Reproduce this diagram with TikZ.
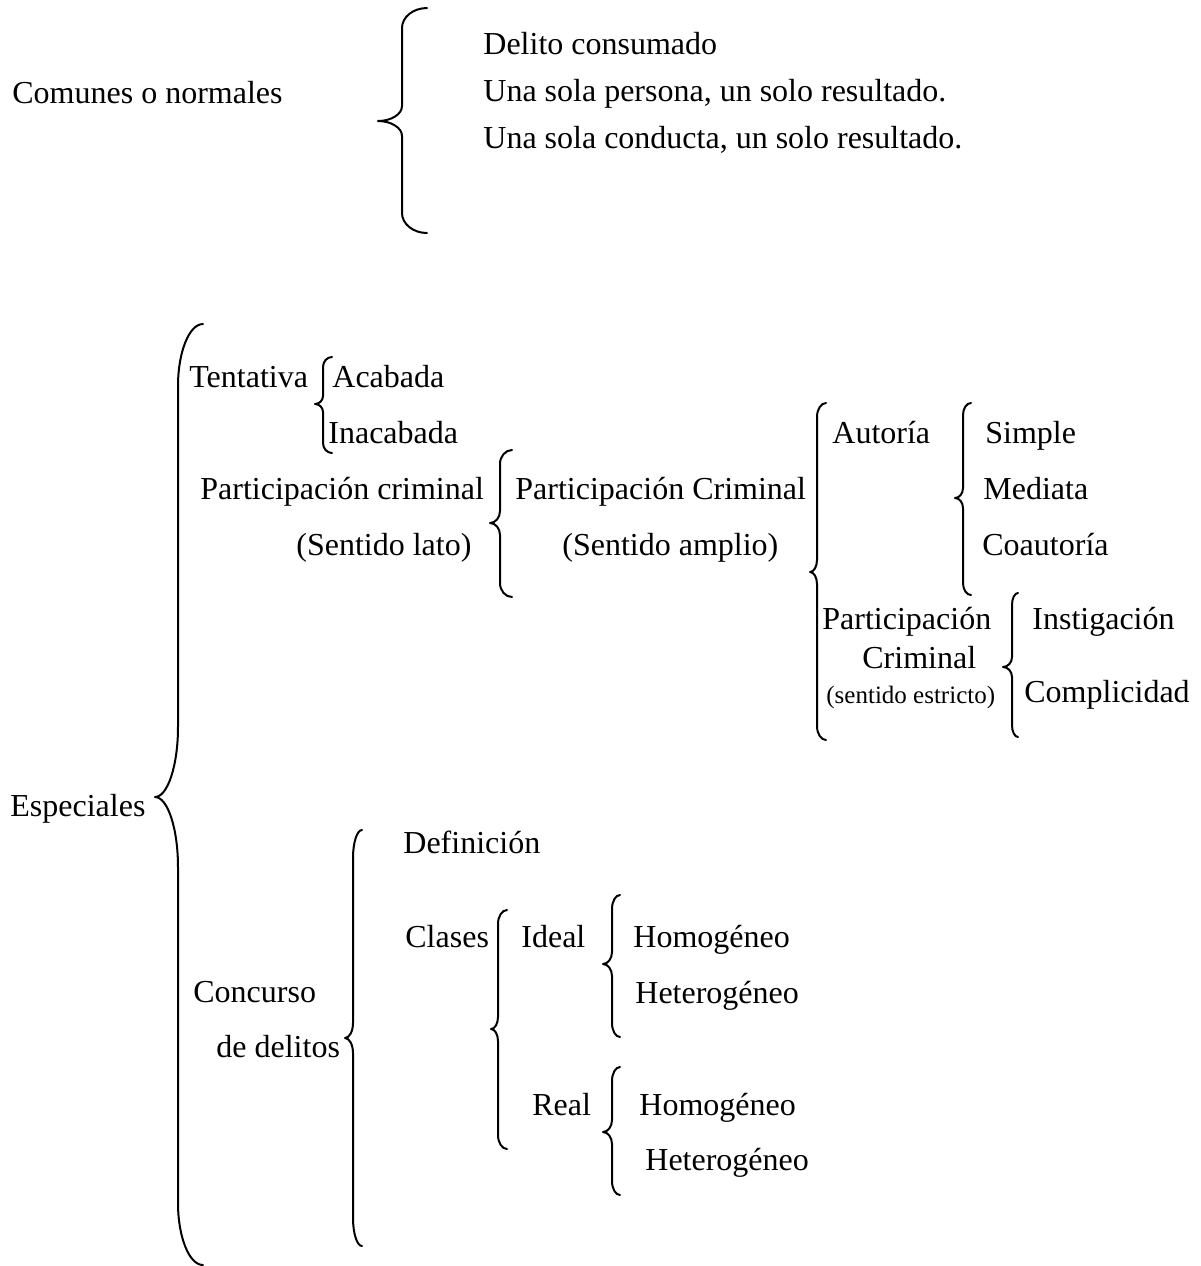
\documentclass[tikz,border=0pt]{standalone}
\usepackage{fontspec}
\setmainfont{Liberation Serif}
\newcommand\drawbrace[8]{%
  \draw[bracestyle] (#1,#4) .. controls ({#1-0.55*(#1-#2)},#4) and (#2,{#4+0.45*#7}) .. (#2,{#4+#7})
   -- (#2,{#5-#8}) .. controls (#2,{#5-0.45*#8}) and ({#3+0.55*(#2-#3)},#5) .. (#3,#5)
   .. controls ({#3+0.55*(#2-#3)},#5) and (#2,{#5+0.45*#8}) .. (#2,{#5+#8})
   -- (#2,{#6-#7}) .. controls (#2,{#6-0.45*#7}) and ({#1-0.55*(#1-#2)},#6) .. (#1,#6);}
\begin{document}
\begin{tikzpicture}[x=0.5pt,y=-0.5pt,
  txt/.style={anchor=base west,inner sep=0pt,font=\fontsize{16pt}{19pt}\selectfont},
  smalltxt/.style={anchor=base west,inner sep=0pt,font=\fontsize{12.5pt}{15pt}\selectfont},
  bracestyle/.style={line width=1pt,line cap=round,line join=round}]
\useasboundingbox (0,0) rectangle (1201,1266);
% top block
\node[txt] (comunes) at (12,103) {Comunes o normales};
\node[txt] (delito) at (483,54) {Delito consumado};
\node[txt] (persona) at (483,101) {Una sola persona, un solo resultado.};
\node[txt] (conducta) at (483,148) {Una sola conducta, un solo resultado.};
\drawbrace{427}{402}{378}{8}{121}{233}{20}{15}
% especiales
\node[txt] (especiales) at (10,816) {Especiales};
\drawbrace{203}{178}{155}{324}{797}{1265}{62}{70}
% tentativa
\node[txt] (tentativa) at (189,387) {Tentativa};
\node[txt] (acabada) at (332,387) {Acabada};
\node[txt] (inacabada) at (328,443) {Inacabada};
\drawbrace{332}{323}{315}{357}{404}{453}{10}{8}
% participacion
\node[txt] (partlato) at (200,499) {Participación criminal};
\node[txt] (lato) at (296,555) {(Sentido lato)};
\drawbrace{512}{500}{490}{450}{523}{597}{14}{12}
\node[txt] (partamplio) at (515,499) {Participación Criminal};
\node[txt] (amplio) at (562,555) {(Sentido amplio)};
\drawbrace{826}{817}{810}{403}{572}{740}{14}{12}
\node[txt] (autoria) at (832,443) {Autoría};
\drawbrace{971}{963}{955}{403}{498}{595}{12}{10}
\node[txt] (simple) at (985,443) {Simple};
\node[txt] (mediata) at (983,499) {Mediata};
\node[txt] (coautoria) at (982,555) {Coautoría};
\node[txt] (partestricto) at (822,629) {Participación};
\node[txt] (criminal) at (862,668) {Criminal};
\node[smalltxt] (estricto) at (826,703) {(sentido estricto)};
\drawbrace{1018}{1012}{1003}{593}{667}{737}{12}{10}
\node[txt] (instigacion) at (1032,629) {Instigación};
\node[txt] (complicidad) at (1024,702) {Complicidad};
% concurso
\node[txt] (concurso) at (193,1002) {Concurso};
\node[txt] (dedelitos) at (216,1057) {de delitos};
\drawbrace{362}{353}{345}{830}{1038}{1246}{28}{15}
\node[txt] (definicion) at (403,853) {Definición};
\node[txt] (clases) at (405,947) {Clases};
\drawbrace{507}{498}{491}{910}{1029}{1149}{14}{12}
\node[txt] (ideal) at (521,947) {Ideal};
\drawbrace{620}{612}{603}{895}{964}{1037}{14}{12}
\node[txt] (homo1) at (633,947) {Homogéneo};
\node[txt] (hetero1) at (635,1003) {Heterogéneo};
\node[txt] (real) at (532,1115) {Real};
\drawbrace{620}{612}{603}{1067}{1132}{1195}{14}{12}
\node[txt] (homo2) at (639,1115) {Homogéneo};
\node[txt] (hetero2) at (645,1170) {Heterogéneo};
\end{tikzpicture}
\end{document}
